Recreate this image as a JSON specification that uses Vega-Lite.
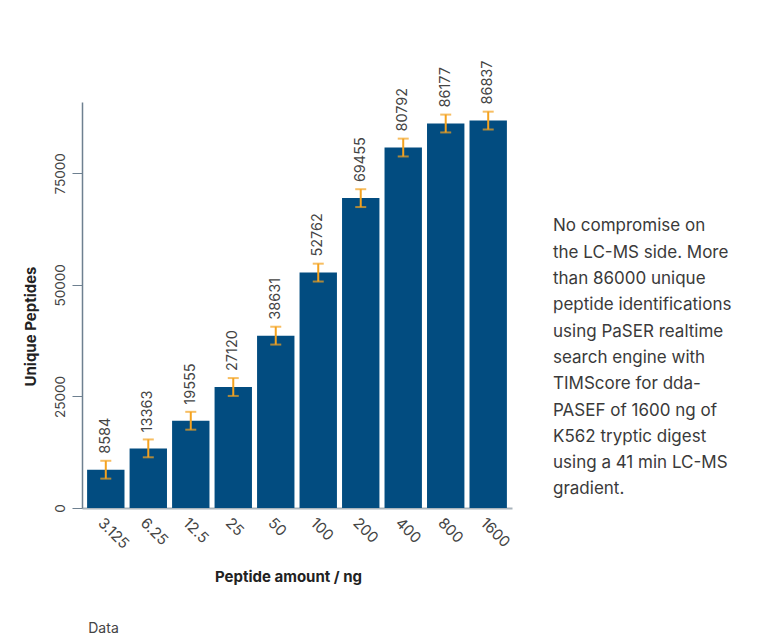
{
  "$schema": "https://vega.github.io/schema/vega-lite/v6.json",
  "width": 430,
  "height": 406,
  "autosize": {"type": "none"},
  "padding": {"left": 82, "top": 102, "right": 248, "bottom": 128},
  "background": "white",
  "config": {"font": "Inter", "view": {"stroke": null}},
  "title": {
    "text": ["No compromise on", "the LC-MS side. More", "than 86000 unique", "peptide identifications", "using PaSER realtime", "search engine with", "TIMScore for dda-", "PASEF of 1600 ng of", "K562 tryptic digest", "using a 41 min LC-MS", "gradient."],
    "orient": "top",
    "anchor": "start",
    "frame": "group",
    "align": "left",
    "baseline": "top",
    "dx": 471,
    "dy": 438,
    "offset": 0,
    "font": "Inter",
    "fontSize": 17,
    "fontWeight": "normal",
    "color": "#3a3a3a",
    "lineHeight": 26.3
  },
  "data": {
    "values": [
      {"amount": "3.125", "peptides": 8584, "err": 2000},
      {"amount": "6.25", "peptides": 13363, "err": 2000},
      {"amount": "12.5", "peptides": 19555, "err": 2000},
      {"amount": "25", "peptides": 27120, "err": 2000},
      {"amount": "50", "peptides": 38631, "err": 2000},
      {"amount": "100", "peptides": 52762, "err": 2000},
      {"amount": "200", "peptides": 69455, "err": 2000},
      {"amount": "400", "peptides": 80792, "err": 2000},
      {"amount": "800", "peptides": 86177, "err": 2000},
      {"amount": "1600", "peptides": 86837, "err": 2000}
    ]
  },
  "layer": [
    {
      "mark": {"type": "bar", "color": "#024c80"},
      "encoding": {
        "x": {
          "field": "amount", "type": "ordinal", "sort": null,
          "scale": {"paddingInner": 0.12, "paddingOuter": 0.12},
          "axis": {
            "title": "Peptide amount / ng",
            "labelAngle": 45, "labelAlign": "left", "labelBaseline": "top",
            "labelFontSize": 15, "labelColor": "#444", "labelPadding": 7,
            "ticks": false,
            "domainColor": "#a9b4bc", "domainWidth": 2,
            "titleFontSize": 15, "titleFontWeight": "bold", "titleColor": "#222",
            "titleX": 206, "titleY": 68, "titleBaseline": "middle"
          }
        },
        "y": {
          "field": "peptides", "type": "quantitative",
          "title": "Unique Peptides",
          "scale": {"domain": [0, 91000], "nice": false},
          "axis": {
            "values": [0, 25000, 50000, 75000],
            "format": "d",
            "grid": false,
            "labelAngle": -90, "labelAlign": "center", "labelBaseline": "bottom",
            "labelFontSize": 13.5, "labelColor": "#444", "labelPadding": 5,
            "tickSize": 10, "tickColor": "#6e8090",
            "domainColor": "#6e8090", "domainWidth": 1.5,
            "titleFontSize": 15, "titleFontWeight": "bold", "titleColor": "#222",
            "titleX": -44, "titleY": 224
          }
        }
      }
    },
    {
      "mark": {"type": "errorbar", "color": "#f4a21f", "thickness": 2, "ticks": {"size": 11, "thickness": 2, "color": "#f4a21f"}},
      "encoding": {
        "x": {"field": "amount", "type": "ordinal", "sort": null, "axis": null},
        "y": {"field": "peptides", "type": "quantitative", "title": "Unique Peptides"},
        "yError": {"field": "err"}
      }
    },
    {
      "mark": {"type": "text", "angle": 270, "align": "left", "baseline": "middle", "dx": 16, "fontSize": 14.5, "color": "#444"},
      "encoding": {
        "x": {
          "field": "amount", "type": "ordinal", "sort": null,
          "axis": {
            "orient": "bottom",
            "title": "Data", "labels": false, "ticks": false, "domain": false,
            "titleX": 21, "titleY": 120, "titleBaseline": "middle",
            "titleFontWeight": "normal", "titleFontSize": 14, "titleColor": "#444"
          }
        },
        "y": {"field": "peptides", "type": "quantitative", "title": "Unique Peptides"},
        "text": {"field": "peptides", "type": "quantitative", "format": "d"}
      }
    }
  ],
  "resolve": {"axis": {"x": "independent"}}
}
